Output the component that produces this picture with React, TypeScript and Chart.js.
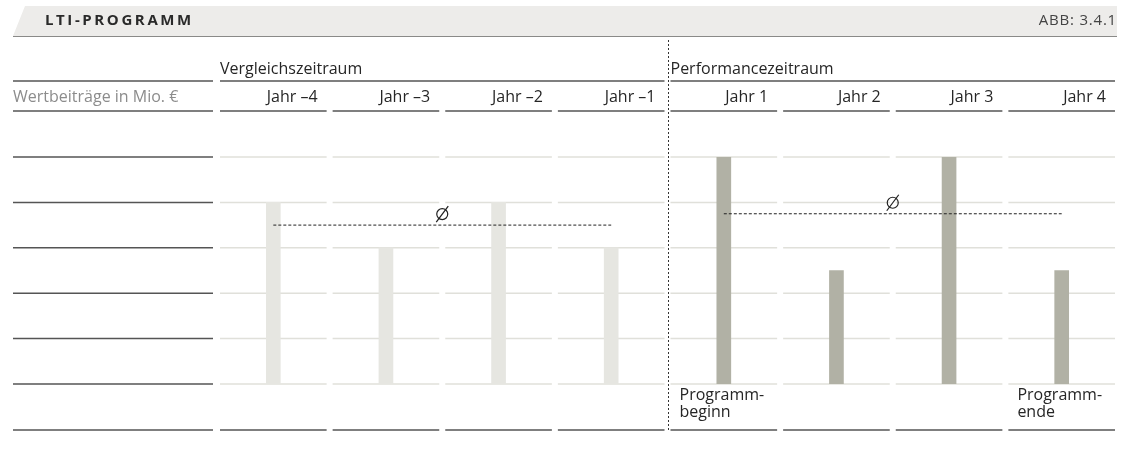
import React, { useEffect, useRef } from 'react';
import { Chart, registerables } from 'chart.js';

Chart.register(...registerables);

const title = 'LTI-PROGRAMM';
const figureRef = 'ABB: 3.4.1';
const unitLabel = 'Wertbeiträge in Mio. €';
const categories = ['Jahr –4', 'Jahr –3', 'Jahr –2', 'Jahr –1', 'Jahr 1', 'Jahr 2', 'Jahr 3', 'Jahr 4'];
const values = [4, 3, 4, 3, 5, 2.5, 5, 2.5];
const periodNames = ['Vergleichszeitraum', 'Performancezeitraum'];
const periodOfCategory = [0, 0, 0, 0, 1, 1, 1, 1];
const footnotes: string[][] = [[], [], [], [], ['Programm-', 'beginn'], [], [], ['Programm-', 'ende']];
const yTicks = [0, 1, 2, 3, 4, 5];

const periodColors = ['#e6e6e1', '#b1b1a5'];

const FONT = '"Open Sans", "Noto Sans", sans-serif';

function periodAverage(p: number): number {
  const vals = values.filter((_, i) => periodOfCategory[i] === p);
  return vals.reduce((a, b) => a + b, 0) / vals.length;
}

const avgSeries = periodNames.map((_, p) =>
  values.map((_, i) => (periodOfCategory[i] === p ? periodAverage(p) : null))
);

const tablePlugin = {
  id: 'tablePlugin',
  beforeDatasetsDraw(chart: any) {
    const { ctx, chartArea, scales } = chart;
    const y = scales.y;
    const n = categories.length;
    const left = chartArea.left;
    const colW = (chartArea.right - chartArea.left) / n;
    const gap = 3;
    const labelL = 13;
    const labelR = left - 4;
    const segStart = (i: number) => left + i * colW + gap;
    const segEnd = (i: number) => left + (i + 1) * colW - gap;
    const hline = (x0: number, x1: number, yy: number, color: string, w = 1.5) => {
      ctx.strokeStyle = color;
      ctx.lineWidth = w;
      ctx.beginPath();
      ctx.moveTo(x0, yy);
      ctx.lineTo(x1, yy);
      ctx.stroke();
    };
    const dark = '#555555';
    const light = '#e0e0da';

    ctx.save();
    // header band
    const bandRight = chartArea.right - 1;
    ctx.fillStyle = '#edecea';
    ctx.beginPath();
    ctx.moveTo(25, 6);
    ctx.lineTo(bandRight, 6);
    ctx.lineTo(bandRight, 36);
    ctx.lineTo(labelL, 36);
    ctx.closePath();
    ctx.fill();
    hline(labelL, bandRight, 36.5, '#8a8a88', 1);

    ctx.textBaseline = 'middle';
    ctx.fillStyle = '#2a2a2a';
    ctx.font = `bold 15px ${FONT}`;
    (ctx as any).letterSpacing = '2.6px';
    ctx.textAlign = 'left';
    ctx.fillText(title, 45, 21);
    (ctx as any).letterSpacing = '0.8px';
    ctx.font = `15px ${FONT}`;
    ctx.fillStyle = '#444444';
    ctx.textAlign = 'right';
    ctx.fillText(figureRef, bandRight, 21);
    (ctx as any).letterSpacing = '0px';

    // period row
    const yPeriod = 81;
    const yCat = 111;
    const yFoot = 430;
    hline(labelL, labelR, yPeriod, dark);
    ctx.font = `16px ${FONT}`;
    ctx.fillStyle = '#262626';
    ctx.textAlign = 'left';
    periodNames.forEach((name, p) => {
      const idx = periodOfCategory.map((q, i) => (q === p ? i : -1)).filter((i) => i >= 0);
      const first = idx[0];
      const last = idx[idx.length - 1];
      hline(segStart(first), segEnd(last), yPeriod, dark);
      ctx.fillText(name, segStart(first), 69);
    });

    // category row
    hline(labelL, labelR, yCat, dark);
    ctx.fillStyle = '#8c8c8c';
    ctx.textAlign = 'left';
    ctx.fillText(unitLabel, labelL, 97);
    ctx.fillStyle = '#262626';
    ctx.textAlign = 'right';
    categories.forEach((c, i) => {
      hline(segStart(i), segEnd(i), yCat, dark);
      ctx.fillText(c, segEnd(i) - 9, 97);
    });

    // value grid rows
    yTicks.forEach((t) => {
      const yy = y.getPixelForValue(t);
      hline(labelL, labelR, yy, dark);
      categories.forEach((_, i) => hline(segStart(i), segEnd(i), yy, light));
    });

    // footer row
    hline(labelL, labelR, yFoot, dark);
    ctx.textAlign = 'left';
    ctx.fillStyle = '#262626';
    categories.forEach((_, i) => {
      hline(segStart(i), segEnd(i), yFoot, dark);
      footnotes[i].forEach((line, k) => {
        ctx.fillText(line, segStart(i) + 9, 395 + k * 17);
      });
    });
    ctx.restore();
  },
  afterDatasetsDraw(chart: any) {
    const { ctx, chartArea, scales } = chart;
    const x = scales.x;
    const y = scales.y;
    const n = categories.length;
    const colW = (chartArea.right - chartArea.left) / n;
    ctx.save();
    // average symbols (diameter sign)
    ctx.strokeStyle = '#222222';
    ctx.lineWidth = 1.2;
    periodNames.forEach((_, p) => {
      const idx = periodOfCategory.map((q, i) => (q === p ? i : -1)).filter((i) => i >= 0);
      const x0 = x.getPixelForValue(idx[0]);
      const x1 = x.getPixelForValue(idx[idx.length - 1]);
      const yy = y.getPixelForValue(periodAverage(p));
      const cx = (x0 + x1) / 2;
      const cy = yy - 11;
      ctx.beginPath();
      ctx.arc(cx, cy, 5.5, 0, Math.PI * 2);
      ctx.stroke();
      ctx.beginPath();
      ctx.moveTo(cx - 6, cy + 8);
      ctx.lineTo(cx + 6, cy - 8);
      ctx.stroke();
    });
    // period divider
    const boundaryIdx = periodOfCategory.indexOf(1);
    const bx = Math.round(chartArea.left + boundaryIdx * colW) + 0.5;
    ctx.strokeStyle = '#333333';
    ctx.lineWidth = 1;
    ctx.setLineDash([2, 2]);
    ctx.beginPath();
    ctx.moveTo(bx, 40);
    ctx.lineTo(bx, 432);
    ctx.stroke();
    ctx.restore();
  },
};

export default function App() {
  const ref = useRef<HTMLCanvasElement | null>(null);
  useEffect(() => {
    if (!ref.current) return;
    const chart = new Chart(ref.current, {
      type: 'bar',
      data: {
        labels: categories,
        datasets: [
          {
            type: 'bar',
            data: values,
            backgroundColor: values.map((_, i) => periodColors[periodOfCategory[i]]),
            barThickness: 14,
            borderWidth: 0,
            order: 2,
          },
          ...avgSeries.map((s) => ({
            type: 'line' as const,
            data: s,
            borderColor: '#222222',
            borderWidth: 1,
            borderDash: [3, 2],
            pointRadius: 0,
            fill: false,
            spanGaps: false,
            order: 1,
          })),
        ],
      },
      options: {
        responsive: false,
        animation: false,
        layout: { padding: { left: 217, right: 7, top: 157, bottom: 74 } },
        plugins: { legend: { display: false }, tooltip: { enabled: false } },
        scales: {
          x: { type: 'category', display: false, offset: true },
          y: { type: 'linear', display: false, min: 0, max: 5, ticks: { stepSize: 1 } },
        },
      },
      plugins: [tablePlugin],
    } as any);
    return () => chart.destroy();
  }, []);
  return (
    <div style={{ position: 'fixed', left: 0, top: 0, width: 1125, height: 458, background: '#ffffff' }}>
      <canvas ref={ref} width={1125} height={458} style={{ width: 1125, height: 458, display: 'block' }} />
    </div>
  );
}
